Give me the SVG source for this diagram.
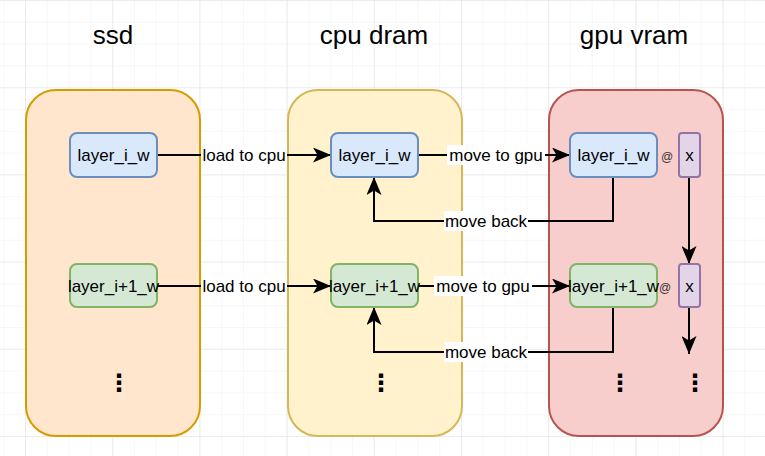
<svg xmlns="http://www.w3.org/2000/svg" width="765" height="456" viewBox="0 0 765 456">
<defs>
<pattern id="minor" x="25" y="0" width="21.8" height="21.8" patternUnits="userSpaceOnUse">
<path d="M0,0 V21.8 M0,0 H21.8" fill="none" stroke="#f0f0f0" stroke-width="1"/>
</pattern>
<pattern id="major" x="25" y="0" width="87.2" height="87.2" patternUnits="userSpaceOnUse">
<path d="M0,0 V87.2 M0,0 H87.2" fill="none" stroke="#e0e0e0" stroke-width="1"/>
</pattern>
<marker id="arr" viewBox="0 0 18 15" refX="18" refY="7.5" markerWidth="18" markerHeight="15" markerUnits="userSpaceOnUse" orient="auto">
<path d="M0,0 L18,7.5 L0,15 L4.5,7.5 Z" fill="#000"/>
</marker>
<style>
text{font-family:"Liberation Sans",Arial,sans-serif;fill:#000}
.title{font-size:26px;text-anchor:middle}
.lbl{font-size:17px;text-anchor:middle;dominant-baseline:central}
.at{font-size:12px;text-anchor:middle;dominant-baseline:central;fill:#333}
.dots{font-family:"DejaVu Sans",sans-serif;font-size:24px;font-weight:bold;text-anchor:middle}
.edge{fill:none;stroke:#000;stroke-width:2}
.lblbg{fill:#fff}
.blue{fill:#dae8fc;stroke:#6c8ebf;stroke-width:2}
.green{fill:#d5e8d4;stroke:#82b366;stroke-width:2}
.purple{fill:#e1d5e7;stroke:#9673a6;stroke-width:2}
</style>
</defs>
<rect width="765" height="456" fill="#fff"/>
<rect width="765" height="456" fill="url(#minor)"/>
<rect width="765" height="456" fill="url(#major)"/>

<g id="title-ssd"><text class="title" x="113" y="44">ssd</text></g>
<g id="title-cpu"><text class="title" x="374" y="44">cpu dram</text></g>
<g id="title-gpu"><text class="title" x="634" y="44">gpu vram</text></g>

<g id="ssd"><rect x="26" y="90" width="174" height="346" rx="30" fill="#ffe6cc" stroke="#d79b00" stroke-width="2"/></g>
<g id="cpu"><rect x="288" y="90" width="174" height="346" rx="30" fill="#fff2cc" stroke="#d6b656" stroke-width="2"/></g>
<g id="gpu"><rect x="549" y="90" width="174" height="346" rx="30" fill="#f8cecc" stroke="#b85450" stroke-width="2"/></g>

<g id="edges">
<path class="edge" d="M157,155 H331" marker-end="url(#arr)"/>
<path class="edge" d="M418,155 H570" marker-end="url(#arr)"/>
<path class="edge" d="M613,177 V221 H374 V177" marker-end="url(#arr)"/>
<path class="edge" d="M157,286 H331" marker-end="url(#arr)"/>
<path class="edge" d="M418,286 H570" marker-end="url(#arr)"/>
<path class="edge" d="M613,307 V352 H374 V307" marker-end="url(#arr)"/>
<path class="edge" d="M689,177 V264" marker-end="url(#arr)"/>
<path class="edge" d="M689,307 V354" marker-end="url(#arr)"/>
<rect class="lblbg" x="201" y="145" width="86" height="20"/>
<text class="lbl" x="244" y="155">load to cpu</text>
<rect class="lblbg" x="447" y="145" width="98" height="20"/>
<text class="lbl" x="496" y="155">move to gpu</text>
<rect class="lblbg" x="444" y="211" width="84" height="20"/>
<text class="lbl" x="486" y="221">move back</text>
<rect class="lblbg" x="201" y="276" width="86" height="20"/>
<text class="lbl" x="244" y="286">load to cpu</text>
<rect class="lblbg" x="434" y="276" width="98" height="20"/>
<text class="lbl" x="483" y="286">move to gpu</text>
<rect class="lblbg" x="444" y="342" width="84" height="20"/>
<text class="lbl" x="486" y="352">move back</text>
</g>

<g id="ssd-w0"><rect class="blue" x="70" y="133" width="87" height="44" rx="7"/><text class="lbl" x="113.5" y="155">layer_i_w</text></g>
<g id="cpu-w0"><rect class="blue" x="331" y="133" width="87" height="44" rx="7"/><text class="lbl" x="374.5" y="155">layer_i_w</text></g>
<g id="gpu-w0"><rect class="blue" x="570" y="133" width="87" height="44" rx="7"/><text class="lbl" x="613.5" y="155">layer_i_w</text></g>
<g id="ssd-w1"><rect class="green" x="70" y="264" width="87" height="43" rx="7"/><text class="lbl" x="113.5" y="286">layer_i+1_w</text></g>
<g id="cpu-w1"><rect class="green" x="331" y="264" width="87" height="43" rx="7"/><text class="lbl" x="374.5" y="286">layer_i+1_w</text></g>
<g id="gpu-w1"><rect class="green" x="570" y="264" width="87" height="43" rx="7"/><text class="lbl" x="613.5" y="286">layer_i+1_w</text></g>
<g id="x0"><rect class="purple" x="679" y="133" width="21" height="44" rx="3"/><text class="lbl" x="689.5" y="155">x</text></g>
<g id="x1"><rect class="purple" x="679" y="264" width="21" height="43" rx="3"/><text class="lbl" x="689.5" y="286">x</text></g>
<g id="at0"><text class="at" x="667" y="157">@</text></g>
<g id="at1"><text class="at" x="665" y="288">@</text></g>

<g id="dots-ssd"><text class="dots" x="119" y="391">⋮</text></g>
<g id="dots-cpu"><text class="dots" x="381" y="391">⋮</text></g>
<g id="dots-gpu"><text class="dots" x="620" y="391">⋮</text></g>
<g id="dots-x"><text class="dots" x="695" y="391">⋮</text></g>
</svg>
